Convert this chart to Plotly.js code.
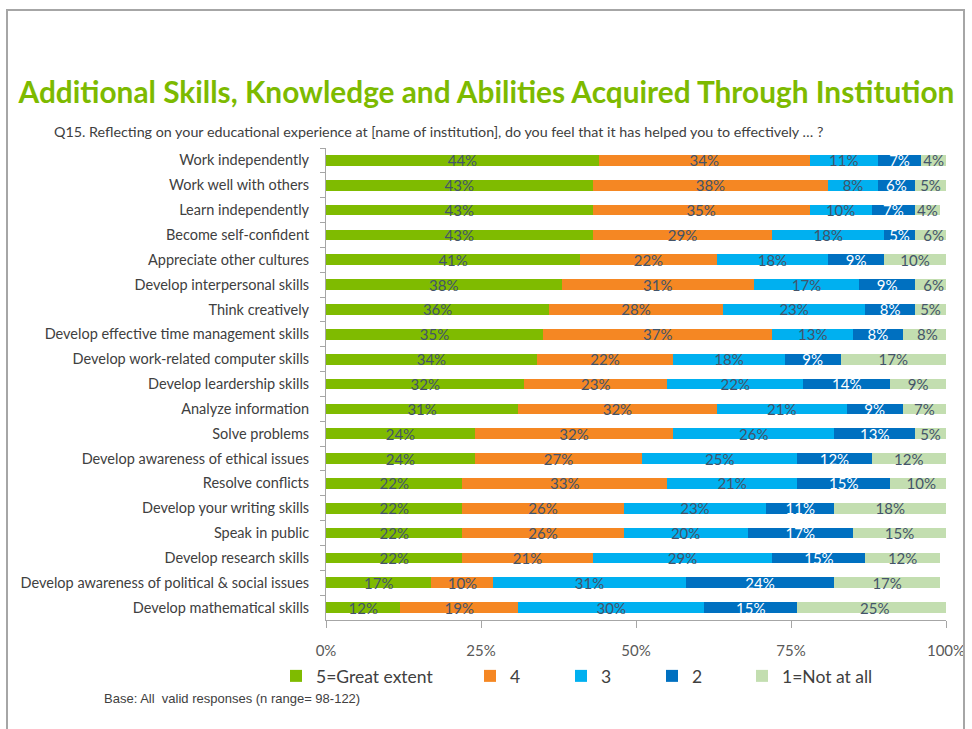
<!DOCTYPE html>
<html>
<head>
<meta charset="utf-8">
<script src="https://cdn.plot.ly/plotly-3.0.1.min.js"></script>
<style>
  html, body { margin: 0; padding: 0; background: #ffffff; }
  #wrap { position: relative; width: 972px; height: 729px; }
  #chart { position: absolute; left: 0; top: 0; width: 972px; height: 729px; }
  #frame { position: absolute; left: 6px; top: 9px; width: 959px; height: 740px;
           border: 2px solid #a6a6a6; pointer-events: none; box-sizing: border-box; }
</style>
</head>
<body>
<div id="wrap">
  <div id="chart"></div>
  <div id="frame"></div>
</div>
<script>
const categories = [
  "Work independently",
  "Work well with others",
  "Learn independently",
  "Become self-confident",
  "Appreciate other cultures",
  "Develop interpersonal skills",
  "Think creatively",
  "Develop effective time management skills",
  "Develop work-related computer skills",
  "Develop leardership skills",
  "Analyze information",
  "Solve problems",
  "Develop awareness of ethical issues",
  "Resolve conflicts",
  "Develop your writing skills",
  "Speak in public",
  "Develop research skills",
  "Develop awareness of political & social issues",
  "Develop mathematical skills"
];
const seriesNames = ["5=Great extent", "4", "3", "2", "1=Not at all"];
const greatExtent = [44, 43, 43, 43, 41, 38, 36, 35, 34, 32, 31, 24, 24, 22, 22, 22, 22, 17, 12];
const four        = [34, 38, 35, 29, 22, 31, 28, 37, 22, 23, 32, 32, 27, 33, 26, 26, 21, 10, 19];
const three       = [11,  8, 10, 18, 18, 17, 23, 13, 18, 22, 21, 26, 25, 21, 23, 20, 29, 31, 30];
const two         = [ 7,  6,  7,  5,  9,  9,  8,  8,  9, 14,  9, 13, 12, 15, 11, 17, 15, 24, 15];
const notAtAll    = [ 4,  5,  4,  6, 10,  6,  5,  8, 17,  9,  7,  5, 12, 10, 18, 15, 12, 17, 25];
const xTickVals = [0, 25, 50, 75, 100];

const seriesValues = [greatExtent, four, three, two, notAtAll];
const colors = ["#7fbb00", "#f58723", "#00b0f0", "#0070c0", "#c3deb0"];
const textColors = ["#44546a", "#44546a", "#44546a", "#ffffff", "#44546a"];
const legendIds = ["legend2", "legend3", "legend4", "legend5", "legend6"];
const legendPx = [276, 470, 561, 652, 742];

// plot area geometry
const W = 972, H = 729;
const L = 326, R = 946, T = 148, B = 620;
const px2x = p => (p - L) / (R - L);
const px2y = p => (B - p) / (B - T);

const traces = seriesValues.map((vals, i) => ({
  type: "bar",
  orientation: "h",
  name: seriesNames[i],
  y: categories,
  x: vals,
  marker: { color: colors[i], line: { width: 0 } },
  text: vals.map(v => v + "%"),
  textposition: "inside",
  insidetextanchor: "middle",
  textangle: 0,
  constraintext: "none",
  insidetextfont: { family: "Lato, sans-serif", size: 15, color: textColors[i] },
  hoverinfo: "x+y+name",
  showlegend: true,
  legend: legendIds[i]
}));

const legendBase = {
  visible: true,
  orientation: "h",
  xref: "container",
  yref: "container",
  xanchor: "left",
  yanchor: "middle",
  y: 1 - 676 / H,
  bgcolor: "rgba(0,0,0,0)",
  font: { family: "Lato, sans-serif", size: 17.5, color: "#404040" },
  itemclick: false,
  itemdoubleclick: false
};

const layout = {
  width: W,
  height: H,
  showlegend: true,
  paper_bgcolor: "#ffffff",
  plot_bgcolor: "#ffffff",
  margin: { l: L, r: W - R, t: T, b: H - B, pad: 0, autoexpand: false },
  barmode: "stack",
  bargap: 0.57,
  font: { family: "Lato, sans-serif", color: "#404040" },
  title: {
    text: "Additional Skills, Knowledge and Abilities Acquired Through Institution",
    font: { family: "Lato, sans-serif", size: 29.8, weight: 700, color: "#7dba00" },
    xref: "container", x: 0.5005, xanchor: "center",
    yref: "container", y: 1 - 93 / H, yanchor: "middle"
  },
  xaxis: {
    range: [0, 100],
    tickvals: xTickVals,
    ticktext: xTickVals.map(v => v + "%"),
    showgrid: false,
    zeroline: false,
    showline: true,
    linecolor: "#a6a6a6",
    linewidth: 1,
    ticks: "outside",
    ticklen: 7,
    tickcolor: "#a6a6a6",
    ticklabelstandoff: 10,
    tickfont: { family: "Lato, sans-serif", size: 15, color: "#595959" },
    fixedrange: true
  },
  yaxis: {
    type: "category",
    categoryorder: "array",
    categoryarray: categories,
    autorange: "reversed",
    showgrid: false,
    zeroline: false,
    showline: true,
    linecolor: "#a6a6a6",
    linewidth: 1,
    ticks: "outside",
    tickson: "boundaries",
    ticklen: 5,
    tickcolor: "#a6a6a6",
    ticklabelstandoff: 13,
    tickfont: { family: "Lato, sans-serif", size: 14.5, color: "#404040" },
    fixedrange: true
  },
  annotations: [
    {
      text: "Q15. Reflecting on your educational experience at [name of institution], do you feel that it has helped you to effectively … ?",
      xref: "paper", yref: "paper",
      x: px2x(52), y: px2y(131),
      xanchor: "left", yanchor: "middle",
      showarrow: false,
      font: { family: "Lato, sans-serif", size: 14.3, color: "#404040" }
    },
    {
      text: "Base: All\u00a0 valid responses (n range= 98-122)",
      xref: "paper", yref: "paper",
      x: px2x(102), y: px2y(698),
      xanchor: "left", yanchor: "middle",
      showarrow: false,
      font: { family: "Liberation Sans, Arial, sans-serif", size: 13, color: "#404040" }
    }
  ]
};

legendIds.forEach((id, i) => {
  layout[id] = Object.assign({}, legendBase, { x: legendPx[i] / W });
});

Plotly.newPlot("chart", traces, layout, { displayModeBar: false, staticPlot: true });
</script>
</body>
</html>
